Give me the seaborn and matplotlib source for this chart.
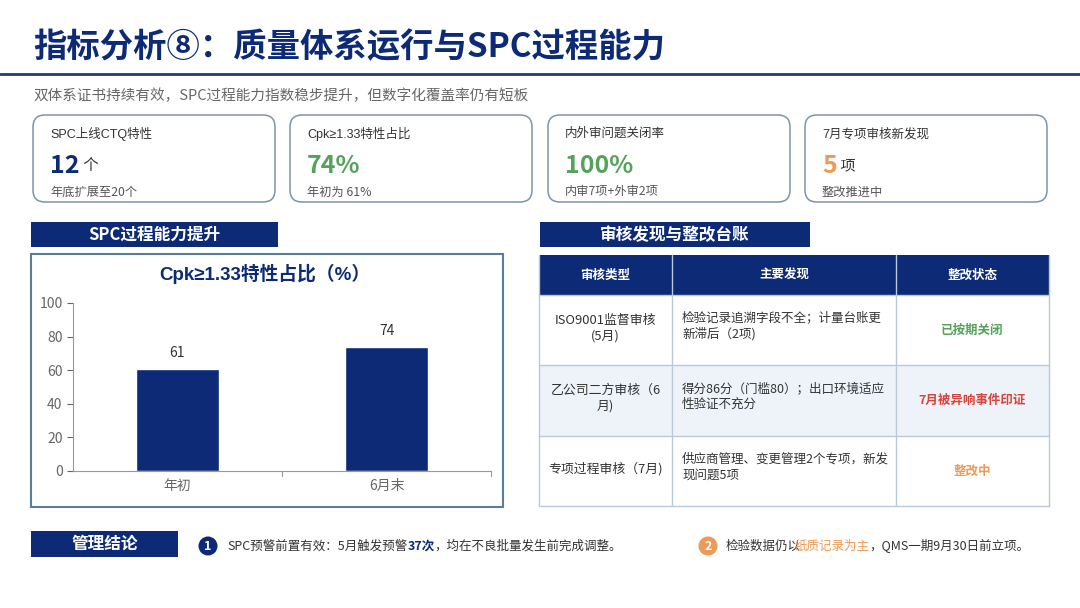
import matplotlib
matplotlib.use("Agg")
import matplotlib.pyplot as plt
import seaborn as sns
import pandas as pd
from matplotlib.patches import FancyBboxPatch, Rectangle, Circle

sns.set_theme(style="white")
plt.rcParams['font.family'] = ['Noto Sans CJK SC', 'DejaVu Sans']
LATIN_FIRST = ['Liberation Sans', 'Noto Sans CJK SC']  # narrow ≥ sign

NAVY = "#0c2a75"
GREEN = "#55a35a"
ORANGE = "#ec9a55"
RED = "#d9433b"

# data
title = "指标分析⑧：质量体系运行与SPC过程能力"
subtitle = "双体系证书持续有效，SPC过程能力指数稳步提升，但数字化覆盖率仍有短板"

kpi_labels = ["SPC上线CTQ特性", "Cpk≥1.33特性占比", "内外审问题关闭率", "7月专项审核新发现"]
kpi_values = ["12", "74%", "100%", "5"]
kpi_units = ["个", "", "", "项"]
kpi_notes = ["年底扩展至20个", "年初为 61%", "内审7项+外审2项", "整改推进中"]
kpi_colors = [NAVY, GREEN, GREEN, ORANGE]

periods = ["年初", "6月末"]
cpk_share = [61, 74]

table_header = ["审核类型", "主要发现", "整改状态"]
audit_types = ["ISO9001监督审核\n(5月)", "乙公司二方审核（6\n月)", "专项过程审核（7月)"]
audit_findings = ["检验记录追溯字段不全；计量台账更\n新滞后（2项)",
                  "得分86分（门槛80）；出口环境适应\n性验证不充分",
                  "供应商管理、变更管理2个专项，新发\n现问题5项"]
audit_status = ["已按期关闭", "7月被异响事件印证", "整改中"]
status_colors = [GREEN, RED, ORANGE]

W, H = 1080, 608
fig = plt.figure(figsize=(W / 100, H / 100), dpi=100)
bg = fig.add_axes([0, 0, 1, 1])
bg.set_xlim(0, W)
bg.set_ylim(H, 0)
bg.axis("off")

# header
bg.text(33, 48, title, fontsize=24, fontweight="bold", color=NAVY, va="center", ha="left")
bg.plot([0, W], [74, 74], color="#1d3c78", lw=2)
bg.text(33, 96, subtitle, fontsize=10.5, color="#666666", va="center", ha="left")

# KPI cards
card_x = [33, 290, 548, 805]
for i in range(4):
    x0 = card_x[i]
    bg.add_patch(FancyBboxPatch((x0, 115), 242, 87, boxstyle="round,pad=0,rounding_size=12",
                                fc="white", ec="#7d93ad", lw=1.1))
    bg.text(x0 + 17, 134, kpi_labels[i], fontsize=9, color="#333333", va="center",
            family=LATIN_FIRST)
    t = bg.text(x0 + 17, 166, kpi_values[i], fontsize=18, fontweight="bold",
                color=kpi_colors[i], va="center")
    if kpi_units[i]:
        bg.annotate(" " + kpi_units[i], xy=(1, 0.15), xycoords=t, fontsize=11,
                    color="#333333", va="bottom", ha="left")
    bg.text(x0 + 17, 192, kpi_notes[i], fontsize=8.8, color="#555555", va="center")

# section headers
for x0, w, label in [(31, 247, "SPC过程能力提升"), (540, 270, "审核发现与整改台账")]:
    bg.add_patch(Rectangle((x0, 222), w, 25, fc=NAVY, ec="none"))
    bg.text(x0 + w / 2, 235, label, fontsize=12, fontweight="bold", color="white",
            ha="center", va="center")

# chart box
bg.add_patch(Rectangle((31, 254), 472, 253, fc="white", ec="#5a7d9a", lw=1.5))
bg.text(265, 274, "Cpk≥1.33特性占比（%）", fontsize=13.5, fontweight="bold", color=NAVY,
        ha="center", va="center", family=LATIN_FIRST)

ax = fig.add_axes([73 / W, 1 - 471 / H, (491 - 73) / W, (471 - 303) / H])
df = pd.DataFrame({"period": periods, "share": cpk_share})
sns.barplot(data=df, x="period", y="share", color=NAVY, saturation=1, width=0.4, ax=ax)
ax.set_ylim(0, 100)
ax.set_xlim(-0.5, 1.5)
ax.set_yticks([0, 20, 40, 60, 80, 100])
ax.set_xlabel("")
ax.set_ylabel("")
ax.patch.set_alpha(0)
for s in ["top", "right"]:
    ax.spines[s].set_visible(False)
for s in ["left", "bottom"]:
    ax.spines[s].set_color("#999999")
    ax.spines[s].set_linewidth(0.8)
ax.tick_params(axis="y", colors="#666666", labelsize=10, length=4, left=True, width=0.8)
ax.tick_params(axis="x", colors="#666666", labelsize=10, length=0, pad=6)
for xb in [0.5, 1.5]:
    ax.plot([xb, xb], [0, -3], color="#999999", lw=0.8, clip_on=False)
for c in ax.containers:
    ax.bar_label(c, padding=6, fontsize=10, color="#333333")

# table
col_x = [539, 672, 896, 1049]
row_y = [255, 295, 365, 436, 506]
bg.add_patch(Rectangle((539, 255), 510, 40, fc=NAVY, ec="none"))
bg.add_patch(Rectangle((539, 365), 510, 71, fc="#eef3fa", ec="none"))
for y in row_y[1:]:
    bg.plot([539, 1049], [y, y], color="#b9c8da", lw=1)
for x in col_x:
    bg.plot([x, x], [255, 506], color="#b9c8da", lw=1)
for j, h in enumerate(table_header):
    bg.text((col_x[j] + col_x[j + 1]) / 2, 275, h, fontsize=9, fontweight="bold",
            color="white", ha="center", va="center")
for i in range(3):
    yc = (row_y[i + 1] + row_y[i + 2]) / 2
    bg.text((col_x[0] + col_x[1]) / 2, yc - 2, audit_types[i], fontsize=9.3, color="#333333",
            ha="center", va="center", linespacing=1.25)
    bg.text(682, yc - 4, audit_findings[i], fontsize=9, color="#333333",
            ha="left", va="center", linespacing=1.3)
    bg.text((col_x[2] + col_x[3]) / 2, yc, audit_status[i], fontsize=9, fontweight="bold",
            color=status_colors[i], ha="center", va="center")

# conclusions
bg.add_patch(Rectangle((31, 531), 147, 26, fc=NAVY, ec="none"))
bg.text(104.5, 544, "管理结论", fontsize=12, fontweight="bold", color="white",
        ha="center", va="center")

FS = 9
bg.add_patch(Circle((208, 546), 9.5, fc=NAVY, ec="none"))
bg.text(208, 546, "1", fontsize=9, fontweight="bold", color="white", ha="center", va="center")
t1 = bg.text(227, 546, "SPC预警前置有效：5月触发预警", fontsize=FS, color="#333333",
             ha="left", va="center")
t2 = bg.annotate("37次", xy=(1, 0), xycoords=t1, fontsize=FS, fontweight="bold",
                 color=NAVY, ha="left", va="bottom")
bg.annotate("，均在不良批量发生前完成调整。", xy=(1, 0), xycoords=t2, fontsize=FS,
            color="#333333", ha="left", va="bottom")

bg.add_patch(Circle((708, 546), 9.5, fc=ORANGE, ec="none"))
bg.text(708, 546, "2", fontsize=9, fontweight="bold", color="white", ha="center", va="center")
t3 = bg.text(726, 546, "检验数据仍以", fontsize=FS, color="#333333", ha="left", va="center")
t4 = bg.annotate("纸质记录为主", xy=(1, 0), xycoords=t3, xytext=(-5, 0),
                 textcoords="offset points", fontsize=FS, color=ORANGE,
                 ha="left", va="bottom")
bg.annotate("，QMS一期9月30日前立项。", xy=(1, 0), xycoords=t4, fontsize=FS,
            color="#333333", ha="left", va="bottom")

fig.savefig("out.png", dpi=100)
